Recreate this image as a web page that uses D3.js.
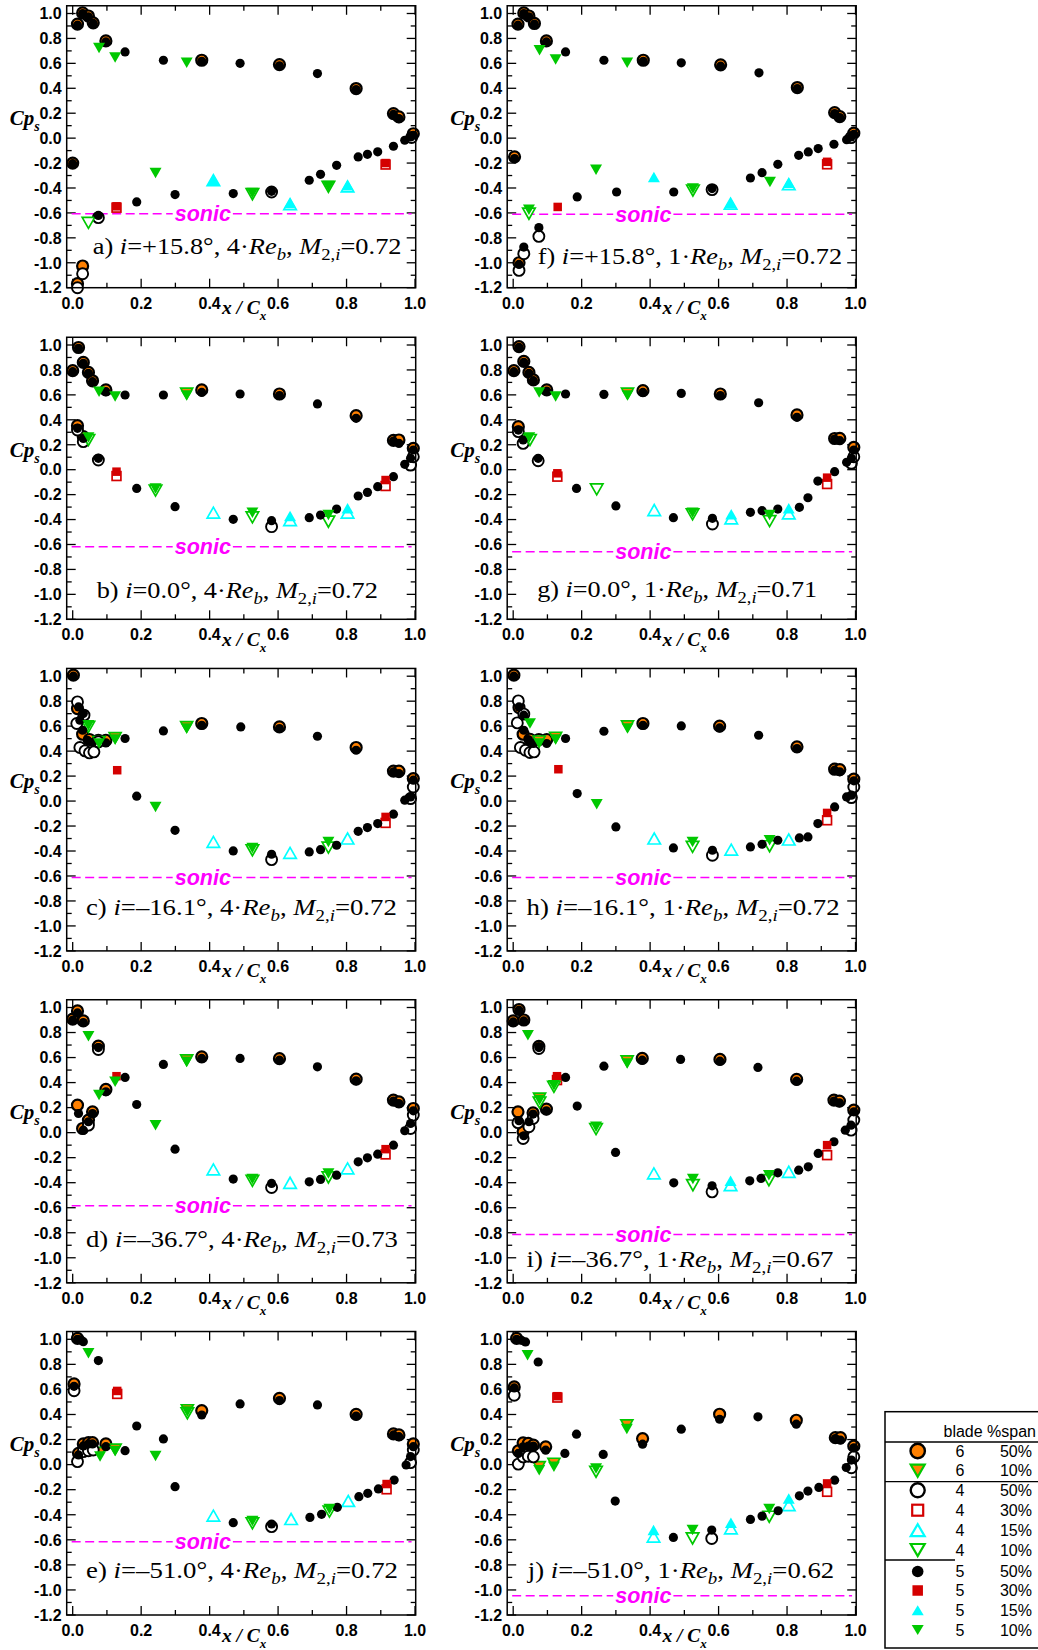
<!DOCTYPE html>
<html><head><meta charset="utf-8">
<script src="https://cdn.jsdelivr.net/npm/d3@7"></script>
<style>body{margin:0;background:#fff}svg{display:block}</style>
</head><body><svg id="chart" width="1038" height="1650"></svg>
<script>
// ---------------- DATA ----------------
const panelIds  = ["a","b","c","d","e","f","g","h","i","j"];
const incidence = ["+15.8°","0.0°","–16.1°","–36.7°","–51.0°","+15.8°","0.0°","–16.1°","–36.7°","–51.0°"];
const reynolds  = ["4","4","4","4","4","1","1","1","1","1"];
const machExit  = ["0.72","0.72","0.72","0.73","0.72","0.72","0.71","0.72","0.67","0.62"];
const sonicCp   = [-0.606,-0.618,-0.613,-0.585,-0.615,-0.61,-0.658,-0.613,-0.814,-1.046];
const xTickVals = [0,0.2,0.4,0.6,0.8,1.0];
const xMinorVals= [0.1,0.3,0.5,0.7,0.9];
const yTickVals = [1.0,0.8,0.6,0.4,0.2,0.0,-0.2,-0.4,-0.6,-0.8,-1.0,-1.2];
const yMinorVals= [0.9,0.7,0.5,0.3,0.1,-0.1,-0.3,-0.5,-0.7,-0.9,-1.1];
const legendBlade = ["6","6","4","4","4","4","5","5","5","5"];
const legendSpan  = ["50%","10%","50%","30%","15%","10%","50%","30%","15%","10%"];

// series order per panel: blade6 50%, blade6 10%, blade4 50%, 30%, 15%, 10%, blade5 50%, 30%, 15%, 10%
// panel a
const a_c6=[[0.0,-0.2],[0.014,0.915],[0.029,1.005],[0.046,0.98],[0.06,0.925],[0.097,0.78],[0.377,0.625],[0.604,0.59],[0.828,0.398],[0.937,0.197],[0.953,0.17],[0.995,0.035],[0.014,-1.168],[0.029,-1.026]];
const a_t6=[];
const a_c4=[[0.014,-1.2],[0.029,-1.088],[0.075,-0.638],[0.581,-0.432],[0.99,0.005]];
const a_s4=[[0.128,-0.558],[0.914,-0.212]];
const a_u4=[[0.411,-0.338],[0.635,-0.53],[0.803,-0.387]];
const a_d4=[[0.046,-0.68],[0.525,-0.45],[0.747,-0.39]];
const a_c5=[[0.0,-0.205],[0.014,0.906],[0.029,1.0],[0.046,0.973],[0.06,0.92],[0.097,0.772],[0.153,0.692],[0.265,0.625],[0.377,0.617],[0.489,0.6],[0.604,0.58],[0.715,0.518],[0.828,0.39],[0.937,0.19],[0.953,0.157],[0.995,0.023],[0.987,0.01],[0.075,-0.62],[0.187,-0.512],[0.299,-0.453],[0.469,-0.445],[0.581,-0.427],[0.691,-0.338],[0.724,-0.29],[0.771,-0.218],[0.834,-0.151],[0.861,-0.13],[0.891,-0.11],[0.937,-0.065],[0.97,-0.017]];
const a_s5=[[0.128,-0.547],[0.914,-0.2]];
const a_u5=[[0.411,-0.333],[0.635,-0.52],[0.803,-0.378]];
const a_d5=[[0.077,0.724],[0.124,0.647],[0.333,0.604],[0.242,-0.28],[0.525,-0.44],[0.747,-0.384]];
// panel b
const b_c6=[[0.0,0.794],[0.017,0.98],[0.031,0.86],[0.046,0.78],[0.058,0.713],[0.097,0.64],[0.377,0.64],[0.604,0.607],[0.828,0.433],[0.937,0.235],[0.953,0.238],[0.995,0.171],[0.014,0.353],[0.031,0.265]];
const b_t6=[[0.333,0.612]];
const b_c4=[[0.014,0.318],[0.031,0.225],[0.075,0.078],[0.581,-0.457],[0.987,0.037],[0.995,0.104]];
const b_s4=[[0.128,-0.051],[0.914,-0.131]];
const b_u4=[[0.411,-0.345],[0.635,-0.404],[0.803,-0.345]];
const b_d4=[[0.046,0.238],[0.242,-0.168],[0.525,-0.382],[0.747,-0.417]];
const b_c5=[[0.0,0.786],[0.017,0.973],[0.031,0.853],[0.046,0.773],[0.058,0.706],[0.097,0.626],[0.153,0.599],[0.265,0.599],[0.377,0.62],[0.489,0.607],[0.604,0.594],[0.715,0.527],[0.828,0.412],[0.937,0.23],[0.953,0.211],[0.995,0.158],[0.014,0.332],[0.031,0.251],[0.075,0.091],[0.187,-0.15],[0.299,-0.297],[0.469,-0.398],[0.581,-0.409],[0.691,-0.385],[0.724,-0.364],[0.771,-0.316],[0.834,-0.211],[0.861,-0.182],[0.891,-0.136],[0.937,-0.056],[0.97,0.043],[0.987,0.091]];
const b_s5=[[0.128,-0.016],[0.914,-0.083]];
const b_u5=[[0.635,-0.372],[0.803,-0.31]];
const b_d5=[[0.077,0.626],[0.124,0.586],[0.333,0.594],[0.242,-0.15],[0.525,-0.345],[0.747,-0.364],[0.046,0.259]];
// panel c
const c_c6=[[0.002,1.008],[0.014,0.741],[0.029,0.535],[0.049,0.493],[0.075,0.487],[0.097,0.487],[0.377,0.621],[0.604,0.594],[0.828,0.429],[0.937,0.24],[0.953,0.239],[0.995,0.18]];
const c_t6=[[0.077,0.474],[0.124,0.506],[0.333,0.594]];
const c_c4=[[0.014,0.794],[0.012,0.621],[0.033,0.688],[0.021,0.429],[0.036,0.402],[0.049,0.386],[0.062,0.394],[0.075,0.474],[0.581,-0.469],[0.987,0.02],[0.995,0.113]];
const c_s4=[[0.914,-0.175]];
const c_u4=[[0.411,-0.327],[0.635,-0.415],[0.803,-0.3]];
const c_d4=[[0.046,0.594],[0.525,-0.394],[0.747,-0.373]];
const c_c5=[[0.002,1.0],[0.017,0.754],[0.031,0.701],[0.021,0.648],[0.029,0.567],[0.043,0.487],[0.058,0.47],[0.097,0.466],[0.153,0.501],[0.265,0.562],[0.377,0.607],[0.491,0.594],[0.604,0.581],[0.715,0.519],[0.828,0.407],[0.937,0.234],[0.953,0.22],[0.995,0.167],[0.187,0.039],[0.299,-0.234],[0.469,-0.399],[0.581,-0.426],[0.691,-0.407],[0.724,-0.389],[0.771,-0.354],[0.834,-0.242],[0.861,-0.212],[0.891,-0.18],[0.937,-0.105],[0.97,0.007],[0.987,0.033]];
const c_s5=[[0.13,0.247],[0.914,-0.127]];
const c_u5=[];
const c_d5=[[0.046,0.607],[0.077,0.461],[0.124,0.493],[0.333,0.581],[0.242,-0.047],[0.525,-0.375],[0.747,-0.327]];
// panel d
const d_c6=[[0.0,0.907],[0.014,0.973],[0.031,0.893],[0.075,0.691],[0.014,0.22],[0.029,0.033],[0.046,0.1],[0.058,0.166],[0.097,0.345],[0.377,0.606],[0.604,0.591],[0.828,0.427],[0.937,0.26],[0.953,0.246],[0.995,0.193]];
const d_t6=[[0.333,0.579]];
const d_c4=[[0.075,0.664],[0.046,0.06],[0.581,-0.438],[0.987,0.033],[0.995,0.14]];
const d_s4=[[0.914,-0.174]];
const d_u4=[[0.411,-0.294],[0.635,-0.401],[0.803,-0.286]];
const d_d4=[[0.525,-0.385],[0.747,-0.358]];
const d_c5=[[0.0,0.899],[0.014,0.957],[0.031,0.88],[0.075,0.68],[0.187,0.225],[0.299,-0.132],[0.469,-0.371],[0.581,-0.406],[0.691,-0.393],[0.724,-0.374],[0.771,-0.34],[0.834,-0.233],[0.861,-0.201],[0.891,-0.172],[0.937,-0.1],[0.97,0.015],[0.987,0.073],[0.017,0.153],[0.031,0.02],[0.046,0.087],[0.058,0.153],[0.097,0.326],[0.153,0.441],[0.265,0.545],[0.377,0.593],[0.489,0.593],[0.604,0.579],[0.715,0.526],[0.828,0.414],[0.937,0.252],[0.953,0.233],[0.995,0.174]];
const d_s5=[[0.128,0.451],[0.914,-0.132]];
const d_u5=[];
const d_d5=[[0.046,0.771],[0.077,0.3],[0.124,0.406],[0.333,0.566],[0.242,0.06],[0.525,-0.371],[0.747,-0.326]];
// panel e
const e_c6=[[0.004,0.644],[0.014,1.008],[0.017,0.09],[0.031,0.165],[0.046,0.175],[0.058,0.175],[0.097,0.165],[0.377,0.431],[0.604,0.529],[0.828,0.401],[0.937,0.245],[0.953,0.237],[0.995,0.165]];
const e_t6=[[0.08,0.096],[0.124,0.122],[0.335,0.436]];
const e_c4=[[0.004,0.59],[0.014,0.024],[0.031,0.104],[0.046,0.111],[0.06,0.117],[0.581,-0.495],[0.987,0.016],[0.995,0.117]];
const e_s4=[[0.13,0.564],[0.917,-0.197]];
const e_u4=[[0.411,-0.407],[0.638,-0.434],[0.805,-0.29]];
const e_d4=[[0.335,0.41],[0.525,-0.468],[0.75,-0.375]];
const e_c5=[[0.004,0.625],[0.014,1.0],[0.024,0.995],[0.031,0.981],[0.075,0.83],[0.187,0.308],[0.299,-0.176],[0.469,-0.463],[0.581,-0.474],[0.693,-0.421],[0.727,-0.397],[0.773,-0.341],[0.836,-0.256],[0.862,-0.229],[0.893,-0.194],[0.939,-0.123],[0.974,-0.003],[0.987,0.064],[0.017,0.077],[0.031,0.149],[0.046,0.165],[0.058,0.165],[0.097,0.143],[0.153,0.111],[0.265,0.205],[0.377,0.396],[0.489,0.484],[0.604,0.511],[0.715,0.476],[0.828,0.388],[0.937,0.237],[0.953,0.223],[0.995,0.143]];
const e_s5=[[0.13,0.588],[0.917,-0.155]];
const e_u5=[];
const e_d5=[[0.046,0.888],[0.08,0.064],[0.124,0.109],[0.335,0.423],[0.242,0.069],[0.525,-0.45],[0.75,-0.354]];
// panel f
const f_c6=[[0.004,-0.15],[0.017,-1.0],[0.014,0.915],[0.031,1.005],[0.046,0.98],[0.062,0.92],[0.097,0.78],[0.38,0.625],[0.606,0.588],[0.83,0.406],[0.939,0.205],[0.954,0.173],[0.995,0.04]];
const f_t6=[];
const f_c4=[[0.017,-1.061],[0.031,-0.927],[0.075,-0.788],[0.581,-0.413],[0.987,0.004]];
const f_s4=[[0.917,-0.21]];
const f_u4=[[0.635,-0.526],[0.805,-0.37]];
const f_d4=[[0.046,-0.606],[0.525,-0.42]];
const f_c5=[[0.004,-0.164],[0.014,0.906],[0.031,1.0],[0.046,0.973],[0.062,0.914],[0.097,0.772],[0.153,0.692],[0.265,0.625],[0.38,0.617],[0.491,0.604],[0.606,0.577],[0.718,0.524],[0.83,0.398],[0.939,0.197],[0.954,0.165],[0.995,0.031],[0.987,0.01],[0.017,-1.013],[0.031,-0.874],[0.075,-0.718],[0.187,-0.472],[0.302,-0.432],[0.469,-0.432],[0.581,-0.405],[0.693,-0.32],[0.727,-0.277],[0.773,-0.21],[0.834,-0.138],[0.862,-0.111],[0.891,-0.084],[0.937,-0.049],[0.974,-0.012]];
const f_s5=[[0.13,-0.552],[0.917,-0.19]];
const f_u5=[[0.411,-0.312],[0.635,-0.52],[0.805,-0.36]];
const f_d5=[[0.077,0.706],[0.124,0.631],[0.333,0.604],[0.242,-0.253],[0.525,-0.405],[0.75,-0.352],[0.046,-0.574]];
// panel g
const g_c6=[[0.002,0.794],[0.017,0.987],[0.031,0.868],[0.046,0.78],[0.059,0.72],[0.098,0.64],[0.379,0.634],[0.605,0.607],[0.829,0.439],[0.939,0.25],[0.954,0.251],[0.995,0.179],[0.015,0.345]];
const g_t6=[[0.334,0.612]];
const g_c4=[[0.015,0.305],[0.029,0.211],[0.073,0.072],[0.582,-0.436],[0.988,0.051],[0.995,0.104]];
const g_s4=[[0.129,-0.056],[0.917,-0.115]];
const g_u4=[[0.412,-0.324],[0.637,-0.39],[0.805,-0.35]];
const g_d4=[[0.049,0.238],[0.244,-0.158],[0.524,-0.358],[0.749,-0.412]];
const g_c5=[[0.002,0.786],[0.017,0.981],[0.031,0.861],[0.046,0.773],[0.059,0.714],[0.098,0.631],[0.153,0.607],[0.265,0.604],[0.379,0.62],[0.491,0.612],[0.605,0.594],[0.717,0.537],[0.829,0.42],[0.939,0.246],[0.954,0.233],[0.995,0.158],[0.015,0.318],[0.029,0.238],[0.073,0.091],[0.185,-0.15],[0.3,-0.291],[0.468,-0.385],[0.582,-0.39],[0.693,-0.342],[0.727,-0.329],[0.773,-0.316],[0.836,-0.302],[0.861,-0.225],[0.89,-0.091],[0.939,-0.016],[0.974,0.059],[0.988,0.091]];
const g_s5=[[0.129,-0.029],[0.917,-0.064]];
const g_u5=[[0.637,-0.358],[0.805,-0.31]];
const g_d5=[[0.076,0.62],[0.124,0.586],[0.334,0.594],[0.524,-0.345],[0.749,-0.364],[0.047,0.259]];
// panel h
const h_c6=[[0.002,1.008],[0.017,0.749],[0.029,0.535],[0.049,0.495],[0.075,0.493],[0.098,0.493],[0.379,0.621],[0.603,0.6],[0.829,0.434],[0.939,0.255],[0.954,0.252],[0.995,0.175]];
const h_t6=[[0.076,0.479],[0.124,0.509],[0.334,0.6]];
const h_c4=[[0.015,0.802],[0.012,0.626],[0.031,0.696],[0.021,0.429],[0.036,0.407],[0.049,0.389],[0.061,0.394],[0.582,-0.434],[0.988,0.028],[0.995,0.113]];
const h_s4=[[0.917,-0.154]];
const h_u4=[[0.412,-0.3],[0.637,-0.389],[0.805,-0.308]];
const h_d4=[[0.524,-0.367],[0.749,-0.362]];
const h_c5=[[0.002,1.0],[0.017,0.754],[0.031,0.688],[0.031,0.567],[0.044,0.493],[0.059,0.461],[0.098,0.461],[0.153,0.501],[0.265,0.559],[0.379,0.607],[0.491,0.602],[0.603,0.586],[0.717,0.527],[0.829,0.421],[0.939,0.247],[0.954,0.234],[0.995,0.162],[0.187,0.06],[0.3,-0.207],[0.468,-0.375],[0.582,-0.394],[0.693,-0.367],[0.727,-0.346],[0.773,-0.314],[0.836,-0.295],[0.861,-0.287],[0.89,-0.18],[0.939,-0.047],[0.974,0.033],[0.988,0.047]];
const h_s5=[[0.132,0.255],[0.917,-0.095]];
const h_u5=[];
const h_d5=[[0.049,0.621],[0.076,0.461],[0.124,0.493],[0.334,0.581],[0.244,-0.025],[0.524,-0.327],[0.749,-0.314]];
// panel i
const i_c6=[[0.0,0.893],[0.017,0.984],[0.031,0.9],[0.075,0.69],[0.014,0.166],[0.029,0.007],[0.058,0.158],[0.097,0.188],[0.377,0.593],[0.604,0.585],[0.828,0.425],[0.937,0.26],[0.953,0.252],[0.995,0.18]];
const i_t6=[[0.077,0.273],[0.333,0.571]];
const i_c4=[[0.014,0.08],[0.029,-0.047],[0.046,0.047],[0.058,0.113],[0.075,0.672],[0.581,-0.473],[0.987,0.02],[0.995,0.1]];
const i_s4=[[0.128,0.42],[0.917,-0.18]];
const i_u4=[[0.411,-0.326],[0.635,-0.419],[0.805,-0.313]];
const i_d4=[[0.077,0.241],[0.119,0.366],[0.242,0.028],[0.525,-0.42],[0.747,-0.38]];
const i_c5=[[0.0,0.885],[0.017,0.979],[0.031,0.893],[0.075,0.68],[0.187,0.212],[0.299,-0.158],[0.469,-0.401],[0.581,-0.425],[0.691,-0.385],[0.724,-0.366],[0.773,-0.321],[0.834,-0.3],[0.862,-0.273],[0.891,-0.166],[0.937,-0.073],[0.97,0.02],[0.987,0.06],[0.017,0.095],[0.031,-0.025],[0.046,0.087],[0.058,0.148],[0.097,0.174],[0.153,0.441],[0.265,0.531],[0.377,0.579],[0.489,0.585],[0.604,0.571],[0.715,0.521],[0.828,0.411],[0.937,0.252],[0.953,0.238],[0.995,0.166]];
const i_s5=[[0.128,0.451],[0.917,-0.1]];
const i_u5=[[0.635,-0.385]];
const i_d5=[[0.043,0.779],[0.077,0.26],[0.119,0.379],[0.333,0.553],[0.242,0.047],[0.525,-0.371],[0.747,-0.34]];
// panel j
const j_c6=[[0.003,0.62],[0.01,1.008],[0.015,0.11],[0.029,0.174],[0.044,0.169],[0.059,0.155],[0.095,0.142],[0.378,0.208],[0.603,0.402],[0.827,0.354],[0.941,0.215],[0.956,0.216],[0.995,0.147]];
const j_t6=[[0.076,-0.018],[0.119,0.009],[0.332,0.315]];
const j_c4=[[0.003,0.554],[0.015,0.004],[0.029,0.062],[0.044,0.067],[0.059,0.062],[0.58,-0.589],[0.988,-0.025],[0.995,0.062]];
const j_s4=[[0.129,0.535],[0.917,-0.217]];
const j_u4=[[0.41,-0.575],[0.636,-0.509],[0.805,-0.323]];
const j_d4=[[0.242,-0.057],[0.524,-0.589],[0.748,-0.416]];
const j_c5=[[0.003,0.612],[0.01,1.0],[0.024,0.992],[0.036,0.979],[0.073,0.819],[0.185,0.243],[0.298,-0.291],[0.468,-0.581],[0.58,-0.522],[0.693,-0.437],[0.727,-0.411],[0.774,-0.368],[0.836,-0.249],[0.861,-0.211],[0.893,-0.182],[0.939,-0.124],[0.973,-0.023],[0.988,0.036],[0.015,0.089],[0.029,0.142],[0.044,0.147],[0.059,0.147],[0.095,0.115],[0.151,0.089],[0.263,0.081],[0.378,0.163],[0.491,0.283],[0.603,0.362],[0.715,0.381],[0.827,0.323],[0.941,0.208],[0.956,0.195],[0.995,0.134]];
const j_s5=[[0.129,0.546],[0.917,-0.15]];
const j_u5=[[0.41,-0.522],[0.636,-0.464],[0.805,-0.27]];
const j_d5=[[0.042,0.872],[0.076,-0.044],[0.119,-0.018],[0.332,0.285],[0.242,-0.031],[0.524,-0.522],[0.748,-0.355]];

// table built from the arrays above
const panelSeries = {
  a:[a_c6,a_t6,a_c4,a_s4,a_u4,a_d4,a_c5,a_s5,a_u5,a_d5],
  b:[b_c6,b_t6,b_c4,b_s4,b_u4,b_d4,b_c5,b_s5,b_u5,b_d5],
  c:[c_c6,c_t6,c_c4,c_s4,c_u4,c_d4,c_c5,c_s5,c_u5,c_d5],
  d:[d_c6,d_t6,d_c4,d_s4,d_u4,d_d4,d_c5,d_s5,d_u5,d_d5],
  e:[e_c6,e_t6,e_c4,e_s4,e_u4,e_d4,e_c5,e_s5,e_u5,e_d5],
  f:[f_c6,f_t6,f_c4,f_s4,f_u4,f_d4,f_c5,f_s5,f_u5,f_d5],
  g:[g_c6,g_t6,g_c4,g_s4,g_u4,g_d4,g_c5,g_s5,g_u5,g_d5],
  h:[h_c6,h_t6,h_c4,h_s4,h_u4,h_d4,h_c5,h_s5,h_u5,h_d5],
  i:[i_c6,i_t6,i_c4,i_s4,i_u4,i_d4,i_c5,i_s5,i_u5,i_d5],
  j:[j_c6,j_t6,j_c4,j_s4,j_u4,j_d4,j_c5,j_s5,j_u5,j_d5]
};

// ---------------- STYLES / LAYOUT ----------------
const ORANGE="#ff8000", GREEN="#00c800", CYAN="#00ffff", RED="#d40000", MAG="#ff00ff";
const markerStyles = [
  {shape:"circle", r:5.5, fill:ORANGE, stroke:"#000", sw:2.2, L:{r:7.2, sw:2.4}},
  {shape:"down", w:12, h:10.5, fill:ORANGE, stroke:GREEN, sw:1.7, L:{w:14, h:12, sw:2.2}},
  {shape:"circle", r:5.5, fill:"#fff", stroke:"#000", sw:1.9, L:{r:7, sw:2.4}},
  {shape:"square", s:8.8, fill:"#fff", stroke:RED, sw:1.7, L:{s:11, sw:2.2}},
  {shape:"up", w:12.5, h:11, fill:"#fff", stroke:CYAN, sw:1.7, L:{w:14, h:12, sw:2.2}},
  {shape:"down", w:12.5, h:11, fill:"#fff", stroke:GREEN, sw:1.7, L:{w:14, h:12, sw:2.2}},
  {shape:"circle", r:4.6, fill:"#000", stroke:"none", sw:0, L:{r:5.8, sw:0}},
  {shape:"square", s:8.5, fill:RED, stroke:"none", sw:0, L:{s:10.5, sw:0}},
  {shape:"up", w:12, h:10.5, fill:CYAN, stroke:"none", sw:0, L:{w:12, h:10, sw:0}},
  {shape:"down", w:12, h:10.5, fill:GREEN, stroke:"none", sw:0, L:{w:12, h:10, sw:0}}
];
const colLeft = [66.7, 507.2];
const frameW = 349;
const rowTop = [13.5, 345, 676.2, 1007.5, 1339.3];   // pixel of Cp=1.0
const rowSpan = [274.2, 274.3, 274.7, 275.3, 275.7]; // pixels from 1.0 to -1.2
// annotation placement: [x start, x end (left-column coords), baseline below Cp=1.0]
const labelPos = [[92.7,401.7,240.7],[96.7,378,253.3],[86,397,239],[86,398,239.4],[86,398,239],
                  [97.3,401.7,250.7],[96.7,376.7,251.7],[86,399.3,239],[86,393,259.5],[87.3,395,239]];

const svg = d3.select("#chart");
svg.append("rect").attr("width",1038).attr("height",1650).attr("fill","#fff");

function trianglePath(dir, w, h){
  return dir==="down"
    ? `M${-w/2},${-h/2}L${w/2},${-h/2}L0,${h/2}Z`
    : `M${-w/2},${h/2}L${w/2},${h/2}L0,${-h/2}Z`;
}
function drawMarker(g, st, cx, cy, legend){
  const o = legend ? Object.assign({}, st, st.L) : st;
  let el;
  if(o.shape==="circle"){
    el = g.append("circle").attr("cx",cx).attr("cy",cy).attr("r",o.r);
  } else if(o.shape==="square"){
    el = g.append("rect").attr("x",cx-o.s/2).attr("y",cy-o.s/2).attr("width",o.s).attr("height",o.s);
  } else {
    el = g.append("path").attr("d",trianglePath(o.shape,o.w,o.h)).attr("transform",`translate(${cx},${cy})`);
  }
  el.attr("fill",o.fill).attr("stroke",o.stroke).attr("stroke-width",o.sw);
}
const fmt = v => (Math.abs(v)<1e-9 ? "0.0" : v.toFixed(1));

panelIds.forEach((pid, idx) => {
  const col = idx < 5 ? 0 : 1;
  const row = idx % 5;
  const L = colLeft[col];
  const x = d3.scaleLinear().domain([-0.0175, 1.002]).range([L, L+frameW]);
  const y = d3.scaleLinear().domain([-1.2, 1.0]).range([rowTop[row]+rowSpan[row], rowTop[row]]);
  const top = y(1.062), bot = y(-1.2), left = L, right = L+frameW;
  const g = svg.append("g");

  // ticks (inward, all four sides)
  const tk = g.append("g").attr("stroke","#000").attr("stroke-width",1.3);
  xTickVals.forEach(v=>{ tk.append("line").attr("x1",x(v)).attr("x2",x(v)).attr("y1",bot).attr("y2",bot-9);
                         tk.append("line").attr("x1",x(v)).attr("x2",x(v)).attr("y1",top).attr("y2",top+9); });
  xMinorVals.forEach(v=>{ tk.append("line").attr("x1",x(v)).attr("x2",x(v)).attr("y1",bot).attr("y2",bot-5);
                          tk.append("line").attr("x1",x(v)).attr("x2",x(v)).attr("y1",top).attr("y2",top+5); });
  yTickVals.forEach(v=>{ tk.append("line").attr("x1",left).attr("x2",left+9).attr("y1",y(v)).attr("y2",y(v));
                         tk.append("line").attr("x1",right).attr("x2",right-9).attr("y1",y(v)).attr("y2",y(v)); });
  yMinorVals.forEach(v=>{ tk.append("line").attr("x1",left).attr("x2",left+5).attr("y1",y(v)).attr("y2",y(v));
                          tk.append("line").attr("x1",right).attr("x2",right-5).attr("y1",y(v)).attr("y2",y(v)); });

  // tick labels
  const lab = g.append("g").attr("font-family","'Liberation Sans',Arial,sans-serif").attr("font-weight","bold").attr("font-size",16).attr("fill","#000");
  yTickVals.forEach(v=>{ lab.append("text").attr("x",left-5).attr("y",y(v)).attr("dy","0.36em").attr("text-anchor","end").text(fmt(v)); });
  xTickVals.forEach(v=>{ lab.append("text").attr("x",x(v)).attr("y",bot+21).attr("text-anchor","middle").text(fmt(v)); });

  // axis titles
  const cps = g.append("text").attr("x",L-57).attr("y",rowTop[row]+111.5)
    .attr("font-family","'Liberation Serif','Times New Roman',serif").attr("font-weight","bold").attr("font-style","italic").attr("font-size",21);
  cps.append("tspan").text("Cp");
  cps.append("tspan").attr("font-size",14).attr("dy",6).text("s");
  const xl = g.append("text").attr("x",x(0.4)+12.3).attr("y",bot+26.5)
    .attr("font-family","'Liberation Serif','Times New Roman',serif").attr("font-weight","bold").attr("font-style","italic").attr("font-size",19.5);
  xl.append("tspan").text("x / C");
  xl.append("tspan").attr("font-size",13).attr("dy",6).text("x");

  // sonic line with label (line group created first so it sits under the text)
  const sy = y(sonicCp[idx]);
  const sl = g.append("g").attr("stroke",MAG).attr("stroke-width",1.5).attr("stroke-dasharray","9,4.5");
  const st = g.append("text").attr("x",x(0.38)).attr("y",sy+7.5).attr("text-anchor","middle")
    .attr("font-family","'Liberation Sans',Arial,sans-serif").attr("font-weight","bold").attr("font-style","italic")
    .attr("font-size",21.5).attr("fill",MAG).text("sonic");
  const bb = st.node().getBBox();
  const gapL = bb.x - 2, gapR = bb.x + bb.width + 2;
  sl.append("line").attr("x1",x(-0.003)).attr("x2",gapL).attr("y1",sy).attr("y2",sy);
  sl.append("line").attr("x1",gapR).attr("x2",x(0.99)).attr("y1",sy).attr("y2",sy);

  // annotation
  const [ax0, ax1, abase] = labelPos[idx];
  const t = g.append("text").attr("font-family","'Liberation Serif','Times New Roman',serif").attr("font-size",24).attr("fill","#000");
  t.append("tspan").text(pid+") ");
  t.append("tspan").attr("font-style","italic").text("i");
  t.append("tspan").text("="+incidence[idx]+", "+reynolds[idx]+"·");
  t.append("tspan").attr("font-style","italic").text("Re");
  t.append("tspan").attr("font-style","italic").attr("font-size",17).attr("dy",6).text("b");
  t.append("tspan").attr("dy",-6).text(", ");
  t.append("tspan").attr("font-style","italic").text("M");
  t.append("tspan").attr("font-size",17).attr("dy",6).text("2,");
  t.append("tspan").attr("font-size",17).attr("font-style","italic").text("i");
  t.append("tspan").attr("dy",-6).text("="+machExit[idx]);
  const tw = t.node().getBBox().width;
  const ox = (col===0 ? 0 : colLeft[1]-colLeft[0]);
  t.attr("transform",`translate(${ax0+ox},${rowTop[row]+abase}) scale(${(ax1-ax0)/tw},1)`);

  // data markers
  const mk = g.append("g");
  panelSeries[pid].forEach((arr, si) => {
    arr.forEach(p => drawMarker(mk, markerStyles[si], x(p[0]), y(p[1]), false));
  });

  // frame
  g.append("rect").attr("x",left).attr("y",top).attr("width",right-left).attr("height",bot-top)
    .attr("fill","none").attr("stroke","#000").attr("stroke-width",1.5);
});

// ---------------- LEGEND ----------------
const lg = svg.append("g");
lg.append("rect").attr("x",885).attr("y",1411.7).attr("width",160).attr("height",236.3)
  .attr("fill","#fff").attr("stroke","#000").attr("stroke-width",1.5);
lg.append("line").attr("x1",885).attr("x2",1038).attr("y1",1442).attr("y2",1442).attr("stroke","#000").attr("stroke-width",1.3);
lg.append("line").attr("x1",885).attr("x2",1038).attr("y1",1481.7).attr("y2",1481.7).attr("stroke","#000").attr("stroke-width",1.3);
lg.append("line").attr("x1",885).attr("x2",955).attr("y1",1560).attr("y2",1560).attr("stroke","#000").attr("stroke-width",1.3);
const lgFont = "'Liberation Sans',Arial,sans-serif";
lg.append("text").attr("x",1036).attr("y",1437).attr("text-anchor","end").attr("font-family",lgFont).attr("font-size",16).text("blade %span");
const legendRowY = [1451, 1470.7, 1490.3, 1510.2, 1530.2, 1550, 1571.5, 1590.5, 1610.2, 1630];
legendBlade.forEach((b, k) => {
  const yy = legendRowY[k];
  drawMarker(lg, markerStyles[k], 917.7, yy, true);
  lg.append("text").attr("x",960).attr("y",yy).attr("dy","0.36em").attr("text-anchor","middle").attr("font-family",lgFont).attr("font-size",16).text(b);
  lg.append("text").attr("x",1032).attr("y",yy).attr("dy","0.36em").attr("text-anchor","end").attr("font-family",lgFont).attr("font-size",16).text(legendSpan[k]);
});
</script></body></html>
